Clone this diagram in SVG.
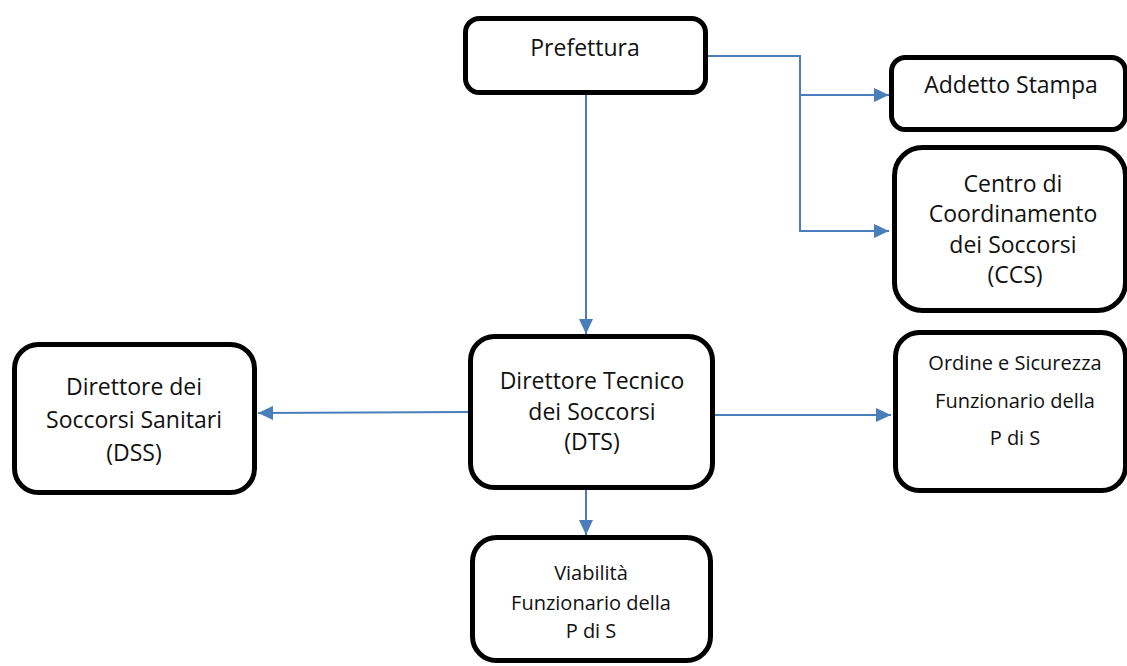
<svg xmlns="http://www.w3.org/2000/svg" width="1127" height="666" viewBox="0 0 1127 666">
<defs>
<style>
.box{fill:#fff;stroke:#000;stroke-width:5}
.t{font-family:"Open Sans","Noto Sans",sans-serif;font-size:23px;fill:#111;text-anchor:middle}
.s{font-size:20px}
.c{fill:none;stroke:#4a7ebb;stroke-width:2}
</style>
<marker id="ah" markerUnits="userSpaceOnUse" markerWidth="16" markerHeight="14" refX="15" refY="7" orient="auto">
<path d="M0,0 L15,7 L0,14 Z" fill="#4a7ebb"/>
</marker>
</defs>
<g id="connectors">
<path class="c" d="M708,56 H800 V231 H889" marker-end="url(#ah)"/>
<path class="c" d="M800,95 H889" marker-end="url(#ah)"/>
<path class="c" d="M586,95 V334" marker-end="url(#ah)"/>
<path class="c" d="M468,412 L258,413" marker-end="url(#ah)"/>
<path class="c" d="M715,415 H891" marker-end="url(#ah)"/>
<path class="c" d="M586,490 V535" marker-end="url(#ah)"/>
</g>
<g id="prefettura">
<rect class="box" x="465.5" y="18.5" width="240" height="74" rx="14"/>
<text class="t" x="585" y="56">Prefettura</text>
</g>
<g id="addetto">
<rect class="box" x="891.5" y="57.5" width="234" height="72" rx="14"/>
<text class="t" x="1011" y="93">Addetto Stampa</text>
</g>
<g id="ccs">
<rect class="box" x="894.5" y="147.5" width="231" height="163" rx="28"/>
<text class="t" x="1013" y="192">Centro di</text>
<text class="t" x="1013" y="222">Coordinamento</text>
<text class="t" x="1013" y="253">dei Soccorsi</text>
<text class="t" x="1015" y="283">(CCS)</text>
</g>
<g id="ordine">
<rect class="box" x="895.5" y="332.5" width="230" height="158" rx="24"/>
<text class="t s" x="1015" y="370">Ordine e Sicurezza</text>
<text class="t s" x="1015" y="408">Funzionario della</text>
<text class="t s" x="1015" y="445">P di S</text>
</g>
<g id="dts">
<rect class="box" x="470.5" y="336.5" width="242" height="151" rx="24"/>
<text class="t" x="592" y="389">Direttore Tecnico</text>
<text class="t" x="592" y="420">dei Soccorsi</text>
<text class="t" x="592" y="450">(DTS)</text>
</g>
<g id="dss">
<rect class="box" x="14.5" y="344.5" width="240" height="148" rx="24"/>
<text class="t" x="134" y="395">Direttore dei</text>
<text class="t" x="134" y="428">Soccorsi Sanitari</text>
<text class="t" x="134" y="461">(DSS)</text>
</g>
<g id="viabilita">
<rect class="box" x="472.5" y="537.5" width="238" height="123" rx="24"/>
<text class="t s" x="591" y="580">Viabilità</text>
<text class="t s" x="591" y="610">Funzionario della</text>
<text class="t s" x="591" y="638">P di S</text>
</g>
</svg>
